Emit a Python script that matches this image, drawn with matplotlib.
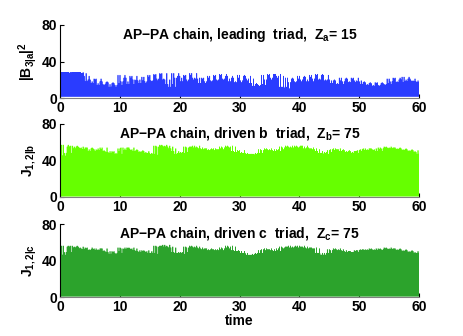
import matplotlib
matplotlib.use('Agg')
import matplotlib.pyplot as plt
import numpy as np

plt.rcParams['font.family'] = ['Liberation Sans', 'DejaVu Sans']
plt.rcParams['font.weight'] = 'bold'
plt.rcParams['mathtext.fontset'] = 'custom'
plt.rcParams['mathtext.rm'] = 'Liberation Sans:bold'
plt.rcParams['mathtext.bf'] = 'Liberation Sans:bold'
plt.rcParams['mathtext.it'] = 'Liberation Sans:bold'
plt.rcParams['mathtext.default'] = 'bf'

# peak values, one every 0.5 time units (t = 0 ... 60)
peaksA = [28, 28, 28, 27, 28, 28, 28, 27, 24, 18, 20, 16, 21, 14, 18, 15, 17, 12, 16, 14,
          25, 18, 22, 15, 24, 20, 19, 16, 23, 18, 25, 19, 26, 21, 27, 20, 15, 12, 27, 22,
          24, 18, 25, 20, 27, 22, 21, 16, 22, 18, 24, 19, 25, 20, 26, 21, 24, 18, 22, 17,
          25, 19, 24, 21, 16, 13, 15, 14, 25, 20, 26, 22, 26, 24, 12, 10, 22, 17, 21, 18,
          24, 20, 23, 18, 25, 21, 26, 20, 25, 19, 20, 16, 19, 15, 22, 18, 21, 17, 22, 19,
          18, 15, 17, 14, 16, 13, 17, 14, 16, 15, 21, 18, 22, 17, 20, 23, 18, 21, 19, 18, 17]
bodyA = 10     # level the dense blue mass reaches between spikes
troughA = 2

peaksB = [45, 57, 48, 55, 56, 53, 55, 54, 52, 54, 50, 53, 52, 51, 54, 50, 49, 48, 50, 47,
          53, 54, 51, 54, 52, 50, 51, 49, 50, 48, 47, 46, 56, 55, 57, 56, 55, 53, 50, 47,
          48, 49, 55, 54, 55, 56, 54, 53, 52, 53, 51, 52, 53, 52, 55, 54, 56, 55, 50, 49,
          51, 48, 47, 46, 47, 45, 48, 52, 51, 53, 52, 51, 50, 52, 55, 54, 56, 55, 54, 56,
          55, 56, 53, 54, 53, 52, 50, 48, 47, 49, 51, 52, 53, 52, 50, 51, 49, 50, 48, 50,
          51, 52, 53, 51, 53, 52, 50, 54, 53, 55, 54, 53, 54, 52, 53, 51, 52, 50, 51, 49, 47]
bodyB = 44
troughB = 1

peaksC = [46, 56, 49, 55, 56, 54, 55, 53, 52, 54, 51, 52, 53, 51, 53, 50, 49, 47, 50, 48,
          54, 53, 52, 54, 53, 51, 50, 49, 51, 50, 48, 47, 56, 55, 56, 57, 55, 54, 49, 48,
          47, 49, 55, 54, 56, 55, 54, 53, 52, 53, 51, 52, 52, 51, 54, 53, 56, 55, 51, 50,
          50, 48, 46, 45, 46, 47, 48, 51, 52, 53, 52, 51, 50, 53, 55, 54, 55, 56, 54, 55,
          56, 55, 54, 53, 54, 53, 48, 46, 46, 48, 52, 51, 53, 52, 51, 50, 49, 50, 49, 51,
          51, 52, 52, 51, 53, 52, 51, 53, 52, 54, 53, 52, 53, 51, 52, 50, 51, 49, 50, 48, 46]
bodyC = 44
troughC = 1

titles = [r'AP$-$PA chain, leading  triad,  Z$_{a}$= 15',
          r'AP$-$PA chain, driven b  triad,  Z$_{b}$= 75',
          r'AP$-$PA chain, driven c  triad,  Z$_{c}$= 75']
ylabels = [r'|B$_{3|a}$|$^{2}$', r'J$_{1,2|b}$', r'J$_{1,2|c}$']
colors = ['#2a3cff', '#66ff00', '#2ca32c']


def zigzag(peaks, body, trough):
    # fast swings between the trough and either a read peak or the body level,
    # so the top edge stays spiky like the original trace
    t = []
    y = []
    n = len(peaks)
    for i in range(n - 1):
        top = peaks[i]
        # the flat start of the leading triad has no body/spike split
        low = body if top > body + 4 and not (i < 8 and body == bodyA) else top
        heights = [top, low, peaks[i + 1], low, peaks[max(i - 1, 0)], low]
        step = 0.5 / len(heights)
        for j, h in enumerate(heights):
            t0 = i * 0.5 + j * step
            t.append(t0)
            y.append(h)
            t.append(t0 + step / 2)
            y.append(trough)
    t.append(60.0)
    y.append(peaks[-1])
    return np.array(t), np.array(y)


fig = plt.figure(figsize=(4.63, 3.36), dpi=100)
bottoms = [0.7083, 0.4137, 0.116]
data = [(peaksA, bodyA, troughA), (peaksB, bodyB, troughB), (peaksC, bodyC, troughC)]

for k in range(3):
    ax = fig.add_axes([0.13, bottoms[k], 0.775, 0.2173])
    t, y = zigzag(*data[k])
    ax.plot(t, y, color=colors[k], lw=0.5)
    ax.set_xlim(0, 60)
    ax.set_ylim(0, 80)
    ax.set_yticks([0, 40, 80])
    ax.set_xticks(range(0, 61, 10))
    ax.spines['top'].set_visible(False)
    ax.spines['right'].set_visible(False)
    ax.spines['bottom'].set_color('#808080')
    ax.tick_params(direction='in', length=3, labelsize=10, pad=2)
    for lab in ax.get_xticklabels() + ax.get_yticklabels():
        lab.set_fontweight('bold')
    ax.set_ylabel(ylabels[k], fontsize=10, fontweight='bold', labelpad=2)
    ax.text(0.5, 0.985, titles[k], transform=ax.transAxes, ha='center', va='top',
            fontsize=10, fontweight='bold')
    if k == 2:
        ax.set_xlabel('time', fontsize=10, fontweight='bold', labelpad=0)

fig.savefig('out.png', dpi=100)
